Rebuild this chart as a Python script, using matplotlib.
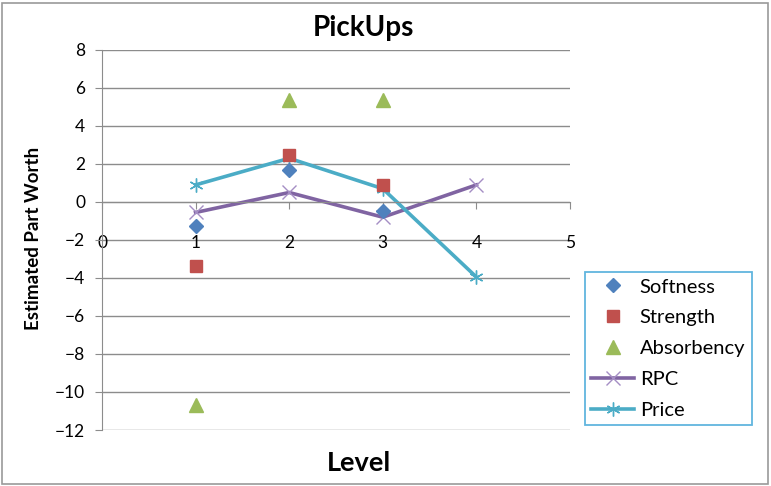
import matplotlib
matplotlib.use("Agg")
import matplotlib.pyplot as plt
from matplotlib.patches import Rectangle

plt.rcParams['font.family'] = ['Lato', 'DejaVu Sans']

# Estimated part worths per attribute level
softness_levels = [1, 2, 3]
softness = [-1.25, 1.7, -0.45]

strength_levels = [1, 2, 3]
strength = [-3.35, 2.45, 0.9]

absorbency_levels = [1, 2, 3]
absorbency = [-10.7, 5.35, 5.35]

rpc_levels = [1, 2, 3, 4]
rpc = [-0.55, 0.5, -0.8, 0.9]

price_levels = [1, 2, 3, 4]
price = [0.9, 2.3, 0.7, -3.95]

x_ticks = [0, 1, 2, 3, 4, 5]
y_ticks = [-12, -10, -8, -6, -4, -2, 0, 2, 4, 6, 8]

W, H = 771, 486
fig = plt.figure(figsize=(W / 100, H / 100), dpi=100)
ax = fig.add_axes([102 / W, 1 - 430 / H, (570 - 102) / W, (430 - 50) / H])

grid_c = '#8c8c8c'
for y in y_ticks:
    ax.axhline(y, color=grid_c, lw=1.0, zorder=0)

ax.plot(softness_levels, softness, ls='none', marker='D', ms=7.5,
        color='#4F81BD', label='Softness', zorder=3)
ax.plot(strength_levels, strength, ls='none', marker='s', ms=8.5,
        color='#C0504D', label='Strength', zorder=3)
ax.plot(absorbency_levels, absorbency, ls='none', marker='^', ms=9.5,
        color='#9BBB59', label='Absorbency', zorder=3)
ax.plot(rpc_levels, rpc, color='#8064A2', lw=2.6, marker='x', ms=10,
        mew=1.0, mec='#a58ec4', label='RPC', zorder=2)
ax.plot(price_levels, price, color='#4BACC6', lw=2.6, marker=(6, 2, 0), ms=10,
        mew=1.0, mec='#4BACC6', label='Price', zorder=2)

ax.set_xlim(0, 5)
ax.set_ylim(-12, 8)
ax.set_xticks(x_ticks)
ax.set_yticks(y_ticks)

for s in ['top', 'right']:
    ax.spines[s].set_visible(False)
ax.spines['bottom'].set_position(('data', 0))
ax.spines['bottom'].set_color(grid_c)
ax.spines['left'].set_color(grid_c)

ax.tick_params(axis='x', direction='out', length=5, color=grid_c,
               labelsize=12.5, pad=19)
ax.tick_params(axis='y', direction='out', length=5, color=grid_c,
               labelsize=12.5, pad=7)

fig.text(363 / W, 1 - 28 / H, 'PickUps', ha='center', va='center',
         fontsize=20, fontweight='bold')
fig.text(359 / W, 1 - 463 / H, 'Level', ha='center', va='center',
         fontsize=19.5, fontweight='bold')
fig.text(34 / W, 1 - 238 / H, 'Estimated Part Worth', ha='center',
         va='center', rotation=90, fontsize=13.5, fontweight='bold')

leg = fig.legend(loc='upper left', bbox_to_anchor=(585 / W, 1 - 272 / H),
                 fontsize=14.5, frameon=True, fancybox=False,
                 borderaxespad=0, labelspacing=0.68, handlelength=2.1,
                 handletextpad=0.3, borderpad=0.32)
leg.get_frame().set_edgecolor('#3aa3d6')
leg.get_frame().set_linewidth(1.3)

fig.patches.append(Rectangle((2 / W, 2 / H), (W - 5) / W, (H - 5) / H,
                             transform=fig.transFigure, fill=False,
                             edgecolor='#9a9a9a', lw=1.2))

fig.savefig('out.png', dpi=100)
